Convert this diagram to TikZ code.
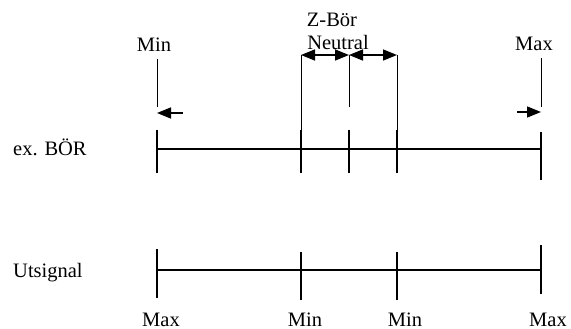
\documentclass[tikz,border=0pt]{standalone}
\usepackage{fontspec}
\setmainfont{Liberation Serif}
\usetikzlibrary{arrows.meta}
\begin{document}
\begin{tikzpicture}[x=1pt,y=-1pt,
  lbl/.style={anchor=base,inner sep=0pt,font=\fontsize{20.5}{24}\selectfont},
  lblL/.style={anchor=base west,inner sep=0pt,font=\fontsize{20.5}{24}\selectfont},
  axis/.style={line width=1.5pt},
  thin/.style={line width=1pt},
  tip/.style={-{Triangle[length=14pt,width=11pt]},line width=1.5pt},
  dtip/.style={{Triangle[length=14pt,width=11pt]}-{Triangle[length=14pt,width=11pt]},line width=1.5pt}]
\useasboundingbox (0,0) rectangle (571,329);
% labels
\node[lbl] (tmin) at (154,52) {Min};
\node[lbl] (tmax) at (534,51) {Max};
\node[lbl] (zb) at (332,27) {Z-Bör};
\node[lbl] (neu) at (338,50) {Neutral};
\node[lblL] (exb) at (13,155) {ex. BÖR};
\node[lblL] (uts) at (13,277) {Utsignal};
\node[lbl] (bmax1) at (161,326) {Max};
\node[lbl] (bmin1) at (305,326) {Min};
\node[lbl] (bmin2) at (405,326) {Min};
\node[lbl] (bmax2) at (548,326) {Max};
% top axis
\coordinate (a1) at (157,149); \coordinate (a5) at (541,149);
\draw[axis] (a1) -- (a5);
\foreach \x/\n in {157/1,301/2,349/3,397/4} {
  \coordinate (t\n u) at (\x,130); \coordinate (t\n d) at (\x,173);
  \draw[axis] (t\n u) -- (t\n d);
}
\coordinate (t5u) at (541,132); \coordinate (t5d) at (541,180);
\draw[axis] (t5u) -- (t5d);
% upper guide lines
\coordinate (g1u) at (157,59); \coordinate (g1d) at (157,107);
\draw[thin] (g1u) -- (g1d);
\coordinate (g5u) at (541,58); \coordinate (g5d) at (541,107);
\draw[thin] (g5u) -- (g5d);
\coordinate (g2u) at (301,55); \draw[thin] (g2u) -- (t2u);
\coordinate (g3u) at (349,55); \coordinate (g3d) at (349,107);
\draw[thin] (g3u) -- (g3d);
\coordinate (g4u) at (397,55); \draw[thin] (g4u) -- (t4u);
% arrows
\coordinate (la) at (183,113); \coordinate (lb) at (157,113);
\draw[tip] (la) -- (lb);
\coordinate (ra) at (517,112); \coordinate (rb) at (541,112);
\draw[tip] (ra) -- (rb);
\draw[dtip] (g2u) -- (g3u);
\draw[dtip] (g3u) -- (g4u);
% bottom axis
\coordinate (b1) at (157,270); \coordinate (b5) at (542,270);
\draw[axis] (b1) -- (b5);
\coordinate (s1u) at (157,249); \coordinate (s1d) at (157,298);
\draw[axis] (s1u) -- (s1d);
\coordinate (s2u) at (301,252); \coordinate (s2d) at (301,300);
\draw[axis] (s2u) -- (s2d);
\coordinate (s3u) at (397,252); \coordinate (s3d) at (397,300);
\draw[axis] (s3u) -- (s3d);
\coordinate (s4u) at (541,245); \coordinate (s4d) at (541,294);
\draw[axis] (s4u) -- (s4d);
\end{tikzpicture}
\end{document}
